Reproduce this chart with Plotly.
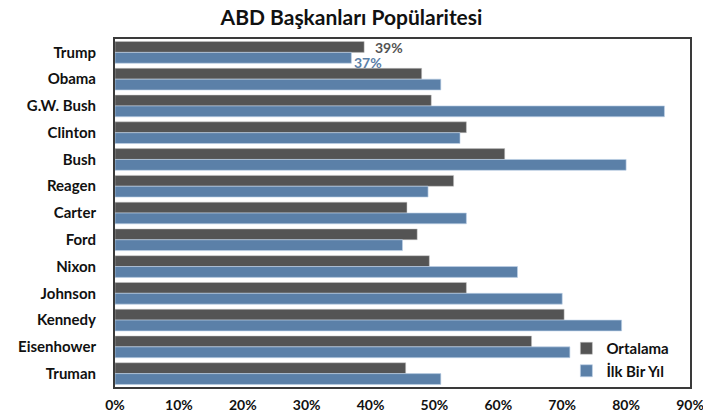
import plotly.graph_objects as go

presidents = ["Trump", "Obama", "G.W. Bush", "Clinton", "Bush", "Reagen", "Carter",
              "Ford", "Nixon", "Johnson", "Kennedy", "Eisenhower", "Truman"]
ortalama = [39, 48, 49.5, 55, 61, 53, 45.7, 47.3, 49.2, 55, 70.3, 65.2, 45.5]
ilk_bir_yil = [37, 51, 86, 54, 80, 49, 55, 45, 63, 70, 79.3, 71.2, 51]
label_ortalama = "39%"
label_ilk = "37%"
x_ticks = [0, 10, 20, 30, 40, 50, 60, 70, 80, 90]
x_ticklabels = [f"{t}%" for t in x_ticks]

FONT = "Lato, Open Sans, sans-serif"
DARK = "#545454"
BLUE = "#5B80A8"

fig = go.Figure()
fig.add_trace(go.Bar(
    y=presidents, x=ortalama, orientation="h", name="Ortalama",
    marker=dict(color=DARK, line=dict(color="rgba(200,200,200,0.6)", width=0.8)),
    hoverinfo="x+y",
))
fig.add_trace(go.Bar(
    y=presidents, x=ilk_bir_yil, orientation="h", name="İlk Bir Yıl",
    marker=dict(color=BLUE, line=dict(color="rgba(190,210,232,0.8)", width=0.8)),
    hoverinfo="x+y",
))

fig.add_annotation(x=ortalama[0], y=presidents[0], text=label_ortalama, showarrow=False,
                   xanchor="left", yanchor="middle", xshift=9, yshift=5,
                   font=dict(family=FONT, size=14, color=DARK, weight="bold"))
fig.add_annotation(x=ilk_bir_yil[0], y=presidents[0], text=label_ilk, showarrow=False,
                   xanchor="left", yanchor="middle", xshift=1, yshift=-10,
                   font=dict(family=FONT, size=14, color=BLUE, weight="bold"))

fig.update_layout(
    width=703, height=416,
    margin=dict(l=115, r=13, t=39, b=29, autoexpand=False),
    paper_bgcolor="white", plot_bgcolor="white",
    barmode="group", bargap=0.19, bargroupgap=0,
    title=dict(text="ABD Başkanları Popülaritesi", x=0.5, xref="container", xanchor="center",
               y=0.957, yanchor="middle",
               font=dict(family=FONT, size=21, color="#111111", weight="bold")),
    font=dict(family=FONT, color="#111111"),
    showlegend=True,
    legend=dict(x=0.785, y=0.0, xanchor="left", yanchor="bottom",
                bgcolor="rgba(0,0,0,0)", traceorder="normal",
                font=dict(family=FONT, size=15, color="#111111", weight="bold"),
                itemwidth=30, tracegroupgap=0),
    xaxis=dict(range=[0, 90], tickvals=x_ticks, ticktext=x_ticklabels,
               showgrid=False, zeroline=False, automargin=False,
               showline=True, mirror=True, linecolor="#3a3a3a", linewidth=2,
               ticks="", ticklabelstandoff=4, ticklabeloverflow="allow",
               tickfont=dict(family=FONT, size=14, color="#111111", weight="bold")),
    yaxis=dict(type="category", categoryorder="array", categoryarray=presidents,
               range=[len(presidents) - 0.5, -0.5], autorange=False,
               showgrid=False, zeroline=False, automargin=False,
               showline=True, mirror=True, linecolor="#3a3a3a", linewidth=2,
               ticks="", ticklabelstandoff=14,
               tickfont=dict(family=FONT, size=15, color="#111111", weight="bold")),
)

fig.write_html("out.html")
